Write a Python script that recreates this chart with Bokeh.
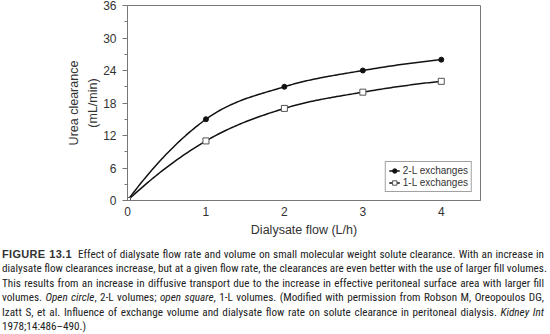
import numpy as np
from bokeh.plotting import figure
from bokeh.models import Range1d, FixedTicker, Legend, LegendItem, Div
from bokeh.layouts import column
from bokeh.embed import file_html
from bokeh.resources import INLINE

# ---- data ----
flow = [0, 1, 2, 3, 4]                 # Dialysate flow (L/h)
clear_2L = [0, 15, 21, 24, 26]         # 2-L exchanges (mL/min)
clear_1L = [0, 11, 17, 20, 22]         # 1-L exchanges (mL/min)
y_ticks = [0, 6, 12, 18, 24, 30, 36]
x_ticks = [0, 1, 2, 3, 4]
series_names = ["2-L exchanges", "1-L exchanges"]

caption_lines = [
    '<b class="fig">FIGURE 13.1</b>&nbsp; Effect of dialysate flow rate and volume on small molecular weight solute clearance. With an increase in',
    'dialysate flow clearances increase, but at a given flow rate, the clearances are even better with the use of larger fill volumes.',
    'This results from an increase in diffusive transport due to the increase in effective peritoneal surface area with larger fill',
    'volumes. <i>Open circle</i>, 2-L volumes; <i>open square</i>, 1-L volumes. (Modified with permission from Robson M, Oreopoulos DG,',
    'Izatt S, et al. Influence of exchange volume and dialysate flow rate on solute clearance in peritoneal dialysis. <i>Kidney Int</i>',
    '1978;14:486&ndash;490.)',
]


def smooth(xs, ys, n=40):
    """Smooth cubic Hermite curve drawn through the data points."""
    xs = np.asarray(xs, float)
    ys = np.asarray(ys, float)
    h = np.diff(xs)
    d = np.diff(ys) / h
    m = np.empty_like(ys)
    m[1:-1] = (d[:-1] + d[1:]) / 2
    m[0] = 2 * d[0] - m[1]
    m[-1] = 2 * d[-1] - m[-2]
    ox, oy = [], []
    for i in range(len(xs) - 1):
        t = np.linspace(0, 1, n)
        h00 = 2 * t**3 - 3 * t**2 + 1
        h10 = t**3 - 2 * t**2 + t
        h01 = -2 * t**3 + 3 * t**2
        h11 = t**3 - t**2
        ox.extend(xs[i] + t * h[i])
        oy.extend(h00 * ys[i] + h10 * h[i] * m[i] + h01 * ys[i + 1] + h11 * h[i] * m[i + 1])
    return ox, oy


FONT = "Liberation Sans"
AXIS_COL = "#777777"
TXT_COL = "#333333"

p = figure(width=550, height=247, x_range=Range1d(0, 4.5), y_range=Range1d(0, 36),
           output_backend="svg", toolbar_location=None,
           min_border_left=127, min_border_right=70, min_border_top=5, min_border_bottom=47)
p.grid.visible = False
p.outline_line_color = AXIS_COL
p.background_fill_color = "white"
p.border_fill_color = "white"

# axes
p.yaxis.ticker = FixedTicker(ticks=y_ticks, minor_ticks=[3, 9, 15, 21, 27, 33])
p.xaxis.ticker = FixedTicker(ticks=x_ticks)
for ax in (p.xaxis, p.yaxis):
    ax.axis_line_color = AXIS_COL
    ax.major_tick_line_color = AXIS_COL
    ax.minor_tick_line_color = AXIS_COL
    ax.major_label_text_font = FONT
    ax.major_label_text_font_size = "12px"
    ax.major_label_text_color = TXT_COL
    ax.axis_label_text_font = FONT
    ax.axis_label_text_font_size = "12.5px"
    ax.axis_label_text_font_style = "normal"
    ax.axis_label_text_color = TXT_COL
p.yaxis.axis_label_text_line_height = 1.35
p.yaxis.major_tick_out = 5
p.yaxis.major_tick_in = 0
p.yaxis.minor_tick_out = 3
p.yaxis.minor_tick_in = 0
p.xaxis.major_tick_out = 0
p.xaxis.major_tick_in = 0
p.xaxis.minor_tick_out = 0
p.xaxis.minor_tick_in = 0
p.yaxis.major_label_standoff = 6
p.xaxis.major_label_standoff = 6
p.yaxis.axis_label = "Urea clearance\n(mL/min)"
p.xaxis.axis_label = "Dialysate flow (L/h)"
p.yaxis.axis_label_standoff = 0
p.xaxis.axis_label_standoff = 4

# series
sx2, sy2 = smooth(flow, clear_2L)
sx1, sy1 = smooth(flow, clear_1L)
l2 = p.line(sx2, sy2, line_color="#111111", line_width=1.5)
l1 = p.line(sx1, sy1, line_color="#111111", line_width=1.5)
m2 = p.scatter(flow, clear_2L, marker="circle", size=5, fill_color="#111111", line_color="#111111")
m1 = p.scatter(flow, clear_1L, marker="square", size=6, fill_color="white", line_color="#555555", line_width=1)

legend = Legend(items=[LegendItem(label=series_names[0], renderers=[l2, m2]),
                       LegendItem(label=series_names[1], renderers=[l1, m1])],
                location="bottom_right")
legend.border_line_color = "#444444"
legend.border_line_width = 1
legend.background_fill_alpha = 1
legend.label_text_font = FONT
legend.label_text_font_size = "10px"
legend.label_text_color = TXT_COL
legend.glyph_width = 11
legend.glyph_height = 11
legend.label_height = 11
legend.label_standoff = 3
legend.spacing = 1
legend.padding = 3
legend.margin = 8
p.add_layout(legend)

lines_html = []
for i, ln in enumerate(caption_lines):
    last = i == len(caption_lines) - 1
    align = "left" if last else "justify"
    lines_html.append(
        f'<div style="text-align:{align};text-align-last:{align};white-space:nowrap;">{ln}</div>'
    )
html = (
    '<style>.fig{font-family:"Liberation Sans",sans-serif;font-size:11px;font-weight:bold;'
    'letter-spacing:0.3px;color:#333;}</style>'
    '<div style="font-family:\'Liberation Sans Narrow\',\'Roboto Condensed\',\'Open Sans\',sans-serif;'
    'font-stretch:condensed;font-size:11.2px;line-height:14.4px;color:#222;width:546px;padding:0 2px;">'
    + "".join(lines_html) + '</div>'
)
cap = Div(text=html, width=550, height=87, margin=(0, 0, 0, 0))

layout = column(p, cap, spacing=0)
open("out.html", "w").write(file_html(layout, INLINE))
